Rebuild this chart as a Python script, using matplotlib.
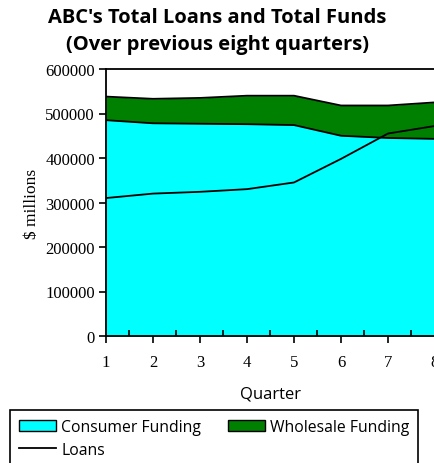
import matplotlib
matplotlib.use('Agg')
import matplotlib.pyplot as plt
from matplotlib.patches import Patch
from matplotlib.lines import Line2D
from matplotlib.ticker import MultipleLocator

quarters = [1, 2, 3, 4, 5, 6, 7, 8]
consumer = [485000, 478000, 477000, 476000, 474000, 450000, 445000, 443000]
total_funds = [538000, 533000, 535000, 540000, 540000, 518000, 518000, 525000]
loans = [310000, 320000, 324000, 330000, 345000, 398000, 455000, 472000]

serif = ['Liberation Serif', 'DejaVu Serif']
sans = ['Open Sans', 'DejaVu Sans']

fig = plt.figure(figsize=(4.35, 4.64), dpi=100)
ax = fig.add_axes([106 / 435, 1 - 337 / 464, 329 / 435, 267 / 464])

# areas
ax.fill_between(quarters, 0, consumer, color='#00ffff', linewidth=0)
ax.fill_between(quarters, consumer, total_funds, color='#008000', linewidth=0)
ax.plot(quarters, consumer, color='black', lw=1.3)
ax.plot(quarters, total_funds, color='black', lw=1.3)
ax.plot(quarters, loans, color='black', lw=1.3)

ax.set_xlim(1, 8)
ax.set_ylim(0, 600000)
ax.set_yticks(range(0, 600001, 100000))
ax.set_xticks(quarters)
ax.xaxis.set_minor_locator(MultipleLocator(0.5))
ax.tick_params(axis='x', which='major', direction='out', length=5, width=1.2, pad=8)
ax.tick_params(axis='x', which='minor', direction='in', length=4, width=1.2)
ax.tick_params(axis='y', direction='out', length=5, width=1.2, pad=3)
for lab in ax.get_xticklabels() + ax.get_yticklabels():
    lab.set_family(serif)
    lab.set_fontsize(12)
for sp in ax.spines.values():
    sp.set_linewidth(1.3)

ax.set_ylabel('$ millions', family=serif, fontsize=12.5, labelpad=4)
ax.set_xlabel('Quarter', family=sans, fontsize=12, labelpad=11)

fig.text(0.5, 1 - 18 / 464, "ABC's Total Loans and Total Funds", ha='center', va='center',
         family=sans, fontsize=14.5, fontweight='bold')
fig.text(0.5, 1 - 45 / 464, "(Over previous eight quarters)", ha='center', va='center',
         family=sans, fontsize=14.5, fontweight='bold')

handles = [
    Patch(facecolor='#00ffff', edgecolor='black', label='Consumer Funding'),
    Line2D([0], [0], color='black', lw=1.3, label='Loans'),
    Patch(facecolor='#008000', edgecolor='black', label='Wholesale Funding'),
]
leg = fig.legend(handles=handles, loc='upper left', bbox_to_anchor=(10 / 435, 1 - 411 / 464),
                 ncol=2, fancybox=False, edgecolor='black', framealpha=1,
                 prop={'family': sans, 'size': 11.3}, handlelength=2.4, handletextpad=0.3,
                 columnspacing=1.7, borderpad=0.55, labelspacing=0.45, borderaxespad=0)
leg.get_frame().set_linewidth(1.2)

fig.savefig('out.png', dpi=100)
